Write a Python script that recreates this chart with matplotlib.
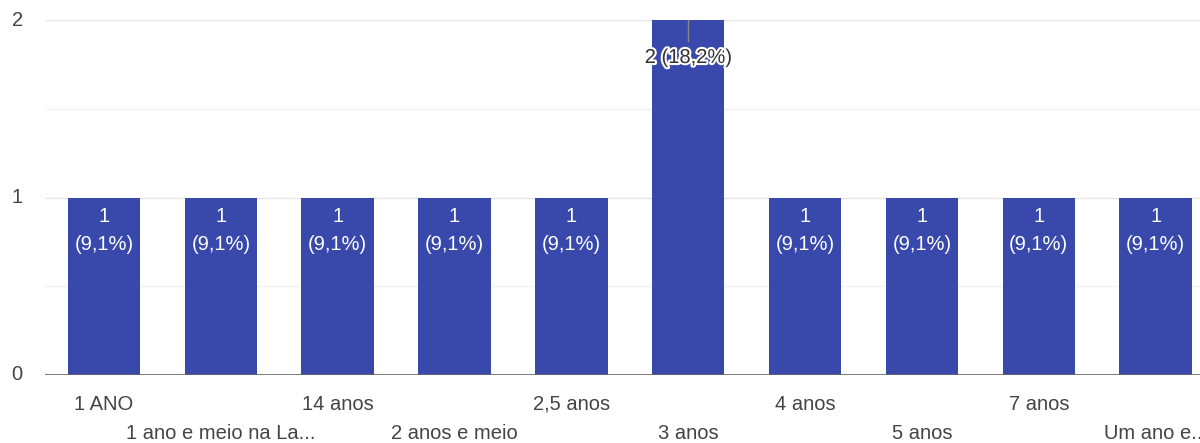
import numpy as np
import matplotlib.pyplot as plt
import matplotlib.patheffects as pe

plt.rcParams['font.family'] = ['Liberation Sans', 'DejaVu Sans']

categories = ["1 ANO", "1 ano e meio na La...", "14 anos", "2 anos e meio", "2,5 anos",
              "3 anos", "4 anos", "5 anos", "7 anos", "Um ano e..."]
counts = [1, 1, 1, 1, 1, 2, 1, 1, 1, 1]
labels = ["1\n(9,1%)"] * 5 + ["2 (18,2%)"] + ["1\n(9,1%)"] * 4

fig = plt.figure(figsize=(12, 4.43), dpi=100)
ax = fig.add_axes([45 / 1200, 1 - 375 / 443, 1 - 45 / 1200, (375 - 20) / 443])

x = np.arange(len(categories))
ax.bar(x, counts, width=0.62, color="#3949ab", zorder=3)

ax.set_xlim(-0.505, 9.38)
ax.set_ylim(0, 2)
for y in [0.5, 1.5]:
    ax.axhline(y, color="#f3f3f3", lw=1, zorder=1)
for y in [1, 2]:
    ax.axhline(y, color="#e6e6e6", lw=1, zorder=1)
ax.axhline(0, color="#666666", lw=1.2, zorder=4)

for s in ax.spines.values():
    s.set_visible(False)
ax.set_xticks([])
ax.set_yticks([])

fs = 14.5
for v in [0, 1, 2]:
    ax.annotate(str(v), xy=(0, v), xycoords=("axes fraction", "data"),
                xytext=(-20, 0), textcoords="offset points", ha="center", va="center",
                fontsize=fs, color="#444444")

for i, c in enumerate(categories):
    dy = -21 if i % 2 == 0 else -42
    ax.annotate(c, xy=(i, 0), xytext=(0, dy), textcoords="offset points",
                ha="center", va="center", fontsize=fs, color="#444444")

for i, (v, lab) in enumerate(zip(counts, labels)):
    if v == max(counts):
        ax.plot([i, i], [v, v - 0.12], color="#888888", lw=1, zorder=4)
        ax.annotate(lab, xy=(i, v), xytext=(0, -27), textcoords="offset points",
                    ha="center", va="center", fontsize=fs, color="#333333", zorder=5,
                    path_effects=[pe.withStroke(linewidth=3, foreground="white")])
    else:
        ax.annotate(lab, xy=(i, v), xytext=(0, -24), textcoords="offset points",
                    ha="center", va="center", fontsize=fs, color="white",
                    linespacing=1.6, zorder=5)

fig.savefig("out.png", dpi=100)
